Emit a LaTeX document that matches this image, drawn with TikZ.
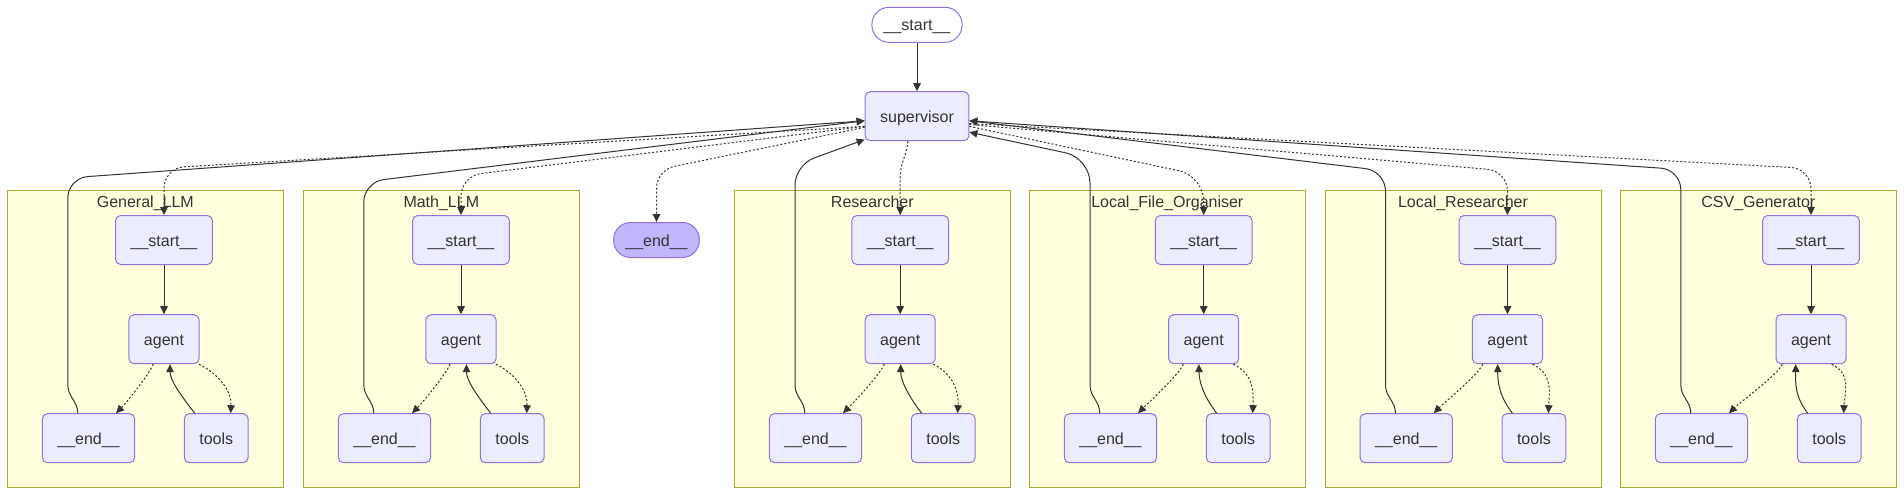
\documentclass[tikz,border=0pt]{standalone}
\usepackage{fontspec}
\setmainfont{Liberation Sans}
\usetikzlibrary{arrows.meta}
\definecolor{bordo}{HTML}{9370DB}
\definecolor{riempi}{HTML}{ECECFF}
\definecolor{ultimo}{HTML}{BFB6FC}
\definecolor{giallo}{HTML}{FFFFDE}
\definecolor{oliva}{HTML}{AAAA33}
\definecolor{scuro}{HTML}{333333}

\begin{document}
\begin{tikzpicture}[x=1pt, y=-1pt, font=\fontsize{16}{19}\selectfont, text=scuro,
    nodo/.style={draw=bordo, fill=riempi, line width=1pt, rounded corners=5pt,
        minimum height=49pt, inner xsep=15pt, text height=13pt, text depth=0pt},
    terminale/.style={draw=bordo, line width=1pt, rounded corners=17pt,
        minimum height=35pt, inner xsep=11.7pt, text height=12pt, text depth=0pt},
    gruppo/.style={draw=oliva, fill=giallo, line width=1pt},
    titolo/.style={anchor=base},
    flusso/.style={draw=scuro, line width=1pt, -{Triangle[length=8pt, width=7.5pt]}},
    punti/.style={flusso, dash pattern=on 2pt off 2pt}]
        \useasboundingbox (0,0) rectangle (1904,496);

        % Sottografi (agenti)
        \foreach \id/\nome/\xc/\dx/\ea/\ta/\ra in {
            g/General\_LLM/7.3/156.7/-10.7/35/6,
            m/Math\_LLM/303.3/157.7/-11/35/5.5,
            r/Researcher/734.3/165.9/-15.9/33.1/0.5,
            f/Local\_File\_Organiser/1029.3/174.4/-20.4/29.6/-4.7,
            l/Local\_Researcher/1325/182.5/-24.8/25.2/-9.8,
            c/CSV\_Generator/1620.3/190.7/-28.7/20.7/-15.3} {
            \draw[gruppo] (\xc,190.7) rectangle ++(276,296.6);
            \node[titolo] at (\xc+138,207.7) {\nome};
            \node[nodo] (\id s) at (\xc+\dx,240) {\_\_start\_\_};
            \node[nodo] (\id a) at (\xc+\dx,339.2) {agent};
            \node[nodo] (\id e) at (\xc+81.2,438.2) {\_\_end\_\_};
            \node[nodo] (\id t) at (\xc+208.9,438.2) {tools};
            \draw[flusso] (\id s) -- (\id a);
            \draw[punti] ([xshift=\ea]\id a.south) .. controls +(-4,10) and +(10,-10) .. ([xshift=27.5]\id e.north);
            \draw[punti] ([xshift=\ta]\id a.south) .. controls +(20,10) and +(1,-22) .. ([xshift=14.5]\id t.north);
            \draw[flusso] ([xshift=-21.5]\id t.north) .. controls +(-14,-18) and +(0,16) .. ([xshift=\ra]\id a.south);
        }

        % Grafo principale
        \node[terminale] (inizio) at (917,24.8) {\_\_start\_\_};
        \node[nodo] (sup) at (917,116.2) {supervisor};
        \node[terminale, fill=ultimo] (fine) at (656.5,240) {\_\_end\_\_};
        \draw[flusso] (inizio) -- (sup);

        % Dal supervisor ai sottografi
        \draw[punti, rounded corners=20pt] (sup.191) -- (164,168) -- (gs.north);
        \draw[punti, rounded corners=20pt] (sup.191) -- (461,176) -- (ms.north);
        \draw[punti, rounded corners=18pt] (sup.192) -- (656.5,170) -- (fine.north);
        \draw[punti] (sup.250.6) .. controls +(-2,18) and +(0,-18) .. ([yshift=36]rs.north) -- (rs.north);
        \draw[punti, rounded corners=25pt] (sup.349) -- (1203.7,176) -- (fs.north);
        \draw[punti, rounded corners=20pt] (sup.351) -- (1507.5,171) -- (ls.north);
        \draw[punti, rounded corners=20pt] (sup.352) -- (1811,168.5) -- (cs.north);

        % Ritorno al supervisor
        \draw[flusso] ([xshift=-10.7]ge.north) .. controls +(0,-12) and +(0,12) .. (67.8,385) [rounded corners=20pt] -- (67.8,178) -- (sup.185);
        \draw[flusso] ([xshift=-10.7]me.north) .. controls +(0,-12) and +(0,12) .. (363.8,385) [rounded corners=20pt] -- (363.8,182) -- (sup.185);
        \draw[flusso] ([xshift=-10.7]re.north) .. controls +(0,-12) and +(0,12) .. (795,385) [rounded corners=20pt] -- (795,165) -- (sup.204);
        \draw[flusso] ([xshift=-10.7]fe.north) .. controls +(0,-12) and +(0,12) .. (1090,385) [rounded corners=25pt] -- (1090,158) -- (sup.343.4);
        \draw[flusso] ([xshift=-10.7]le.north) .. controls +(0,-12) and +(0,12) .. (1385.5,385) [rounded corners=20pt] -- (1385.5,171) -- (sup.355);
        \draw[flusso] ([xshift=-10.7]ce.north) .. controls +(0,-12) and +(0,12) .. (1680.8,385) [rounded corners=20pt] -- (1680.8,169.5) -- (sup.355);

    \end{tikzpicture}
\end{document}
